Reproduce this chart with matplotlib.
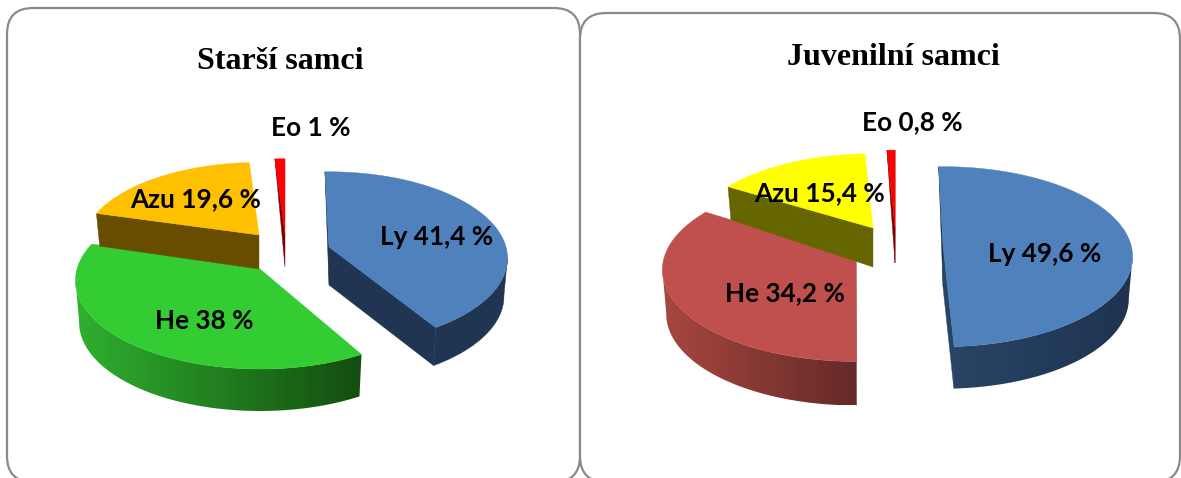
import numpy as np
import matplotlib
matplotlib.use("Agg")
import matplotlib.pyplot as plt
from matplotlib.colors import to_rgb
from matplotlib.patches import FancyBboxPatch, Polygon

# ---------- data ----------
categories = ["Ly", "He", "Azu", "Eo"]
older_males = [41.4, 38, 19.6, 1]
juvenile_males = [49.6, 34.2, 15.4, 0.8]
title_older = "Starší samci"
title_juvenile = "Juvenilní samci"

# ---------- style / layout (pixel space of the 1181x478 canvas) ----------
W, H = 1181, 478
KP = 0.13       # perspective strength
BOTTOM_X = 0.98 # lower rim is slightly narrower

left_style = {
    "Ly":  dict(c=(329, 247), r=(177, 85), d=38, rot=-1.5, top="#4F81BD", wall=("#1F3552", "#1F3552")),
    "He":  dict(c=(260, 269), r=(183, 87), d=42, rot=1.5, top="#33CC33", wall=("#2FB02F", "#134D10")),
    "Azu": dict(c=(259, 235), r=(175, 82), d=34, rot=0, top="#FFC000", wall=("#684C00", "#684C00")),
    "Eo":  dict(c=(285, 234), r=(182, 85), d=33, rot=0, top="#FF0000", wall=("#7A0000", "#7A0000")),
}
right_style = {
    "Ly":  dict(c=(943, 245), r=(188, 88.5), d=42, rot=-1.5, top="#4F81BD", wall=("#2A4466", "#1D3350")),
    "He":  dict(c=(856, 258), r=(192, 90), d=44, rot=1.4, top="#C0504D", wall=("#A8473F", "#652A28")),
    "Azu": dict(c=(873, 228), r=(182, 84), d=39, rot=0, top="#FFFF00", wall=("#666600", "#666600")),
    "Eo":  dict(c=(895, 228), r=(182, 88), d=35, rot=0, top="#FF0000", wall=("#7A0000", "#7A0000")),
}
left_labels = {"Ly": (437, 236.5), "He": (204, 321), "Azu": (195.5, 199.5), "Eo": (311, 128)}
right_labels = {"Ly": (1045, 253.5), "He": (785, 293.5), "Azu": (820, 193.5), "Eo": (912, 122)}
DRAW_ORDER = ["He", "Azu", "Eo", "Ly"]


def project(theta, st):
    """Map pie angles (degrees clockwise from top) to canvas pixels."""
    t = np.radians(theta)
    u, v = np.sin(t), np.cos(t)
    s = 1 / (1 + KP * v)
    return st["c"][0] + st["r"][0] * u * s, st["c"][1] - st["r"][1] * v * s, v


def gradient_fill(ax, pts, colors, z):
    pts = np.asarray(pts)
    if colors[0] == colors[1]:
        ax.add_patch(Polygon(pts, closed=True, fc=colors[0], ec=colors[0], lw=0.3, zorder=z))
        return
    x0, x1 = pts[:, 0].min(), pts[:, 0].max()
    y0, y1 = pts[:, 1].min(), pts[:, 1].max()
    ramp = np.linspace(0, 1, 256)[None, :, None]
    img = (1 - ramp) * np.array(to_rgb(colors[0])) + ramp * np.array(to_rgb(colors[1]))
    im = ax.imshow(img, extent=(x0, x1, y1, y0), aspect="auto", zorder=z, interpolation="bilinear")
    clip = Polygon(pts, closed=True, transform=ax.transData, fc="none", ec="none")
    ax.add_patch(clip)
    im.set_clip_path(clip)


def draw_pie(ax, values, style, label_pos):
    total = sum(values)
    edges = np.concatenate([[0], np.cumsum(values)]) / total * 360
    spans = {c: (edges[i], edges[i + 1]) for i, c in enumerate(categories)}
    z = 2
    for cat in DRAW_ORDER:
        st = style[cat]
        ts, te = spans[cat][0] + st["rot"], spans[cat][1] + st["rot"]
        cx, cy = st["c"]
        d = st["d"]
        shade = st["wall"]

        # start radial face
        if np.sin(np.radians(ts)) < 0.001:
            x, y, v = project(ts, st)
            f = np.sqrt(max(1 - v * v, 0)) if v > 0 else 1
            gradient_fill(ax, [(x, y), (cx + (x - cx) * BOTTOM_X, y + d * f), (cx, cy + d), (cx, cy)],
                          (shade[1], shade[1]), z)
            z += 1
        # end radial face
        if np.sin(np.radians(te)) > 0:
            x, y, v = project(te, st)
            gradient_fill(ax, [(x, y), (cx + (x - cx) * BOTTOM_X, y + d), (cx, cy + d), (cx, cy)],
                          (shade[0], shade[0]), z)
            z += 1
        # outer wall
        a, b = max(ts, 97), min(te, 263)
        if b > a:
            th = np.linspace(a, b, 120)
            x, y, _ = project(th, st)
            xb = cx + (x - cx) * BOTTOM_X
            pts = np.vstack([np.c_[x, y], np.c_[xb, y + d][::-1]])
            gradient_fill(ax, pts, shade, z)
            z += 1
        # top face
        th = np.linspace(ts, te, 160)
        x, y, _ = project(th, st)
        ax.add_patch(Polygon(np.vstack([[cx, cy], np.c_[x, y]]), closed=True,
                             fc=st["top"], ec=st["top"], lw=0.3, zorder=z))
        z += 1

    for cat, val in zip(categories, values):
        ax.text(*label_pos[cat], f"{cat} {val:g} %".replace(".", ","),
                family="Lato", weight="bold", fontsize=18.8, color="black",
                ha="center", va="center", zorder=50)


fig = plt.figure(figsize=(W / 100, H / 100), dpi=100, facecolor="white")
ax = fig.add_axes([0, 0, 1, 1])
ax.axis("off")

for (x0, x1, y0) in [(7, 580, 8), (580, 1180, 13)]:
    ax.add_patch(FancyBboxPatch((x0, y0), x1 - x0, 482 - y0,
                                boxstyle="round,pad=0,rounding_size=26",
                                fc="white", ec="#8A8A8A", lw=1.6, zorder=1))

draw_pie(ax, older_males, left_style, left_labels)
draw_pie(ax, juvenile_males, right_style, right_labels)

ax.text(280, 61, title_older, family="Liberation Serif", weight="bold",
        fontsize=23, ha="center", va="center", zorder=50)
ax.text(893, 57, title_juvenile, family="Liberation Serif", weight="bold",
        fontsize=23, ha="center", va="center", zorder=50)

ax.set_xlim(0, W)
ax.set_ylim(H, 0)
fig.savefig("out.png", dpi=100, facecolor="white")
